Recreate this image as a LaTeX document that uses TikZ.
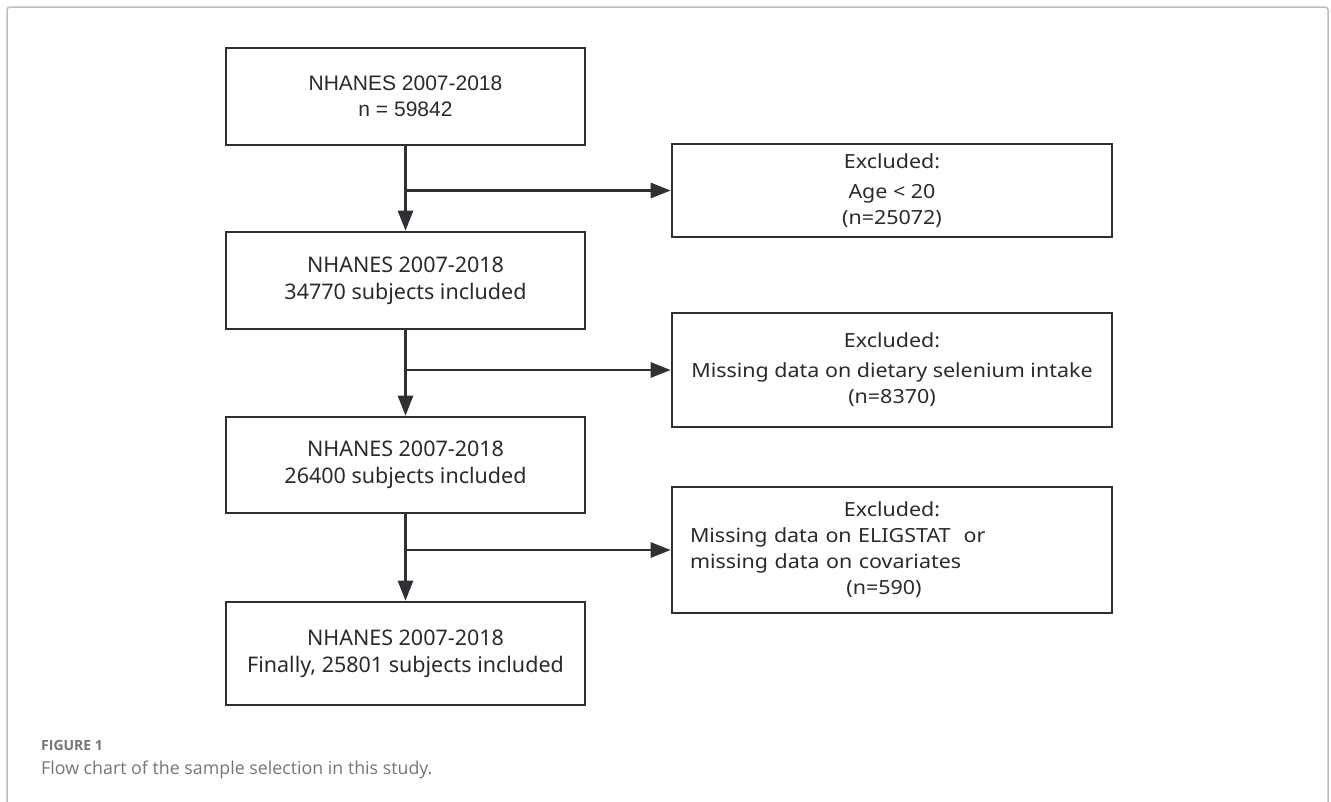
\documentclass[tikz,border=0pt]{standalone}
\usepackage{fontspec}
\usetikzlibrary{arrows.meta}
\setmainfont{Noto Sans}
\newfontfamily\arialfont{Liberation Sans}
\newfontfamily\exfont[FakeStretch=1.1]{Noto Sans}
\newfontfamily\capfont{Open Sans}
\definecolor{ink}{HTML}{2E3033}
\definecolor{txt}{HTML}{2A2A2A}
\definecolor{framegray}{HTML}{BDBDBD}
\definecolor{capgray}{HTML}{757575}
\tikzset{
  mainbox/.style={draw=ink, line width=2.6pt, minimum width=359pt, text=txt,
    align=center, inner sep=0pt, font=\fontsize{21.5}{27}\selectfont},
  exbox/.style={draw=ink, line width=2.6pt, minimum width=440pt, text=txt,
    align=center, inner sep=0pt, font=\exfont\fontsize{19.5}{26}\selectfont},
  flowarrow/.style={draw=ink, line width=2.6pt, -{Triangle[length=20pt,width=15pt]}},
}
\begin{document}
\begin{tikzpicture}[x=1pt,y=-1pt]
\useasboundingbox (0,0) rectangle (1331,801);
\draw[framegray, line width=1.5pt, rounded corners=3pt] (7,805) -- (7,7) -- (1328,7) -- (1328,805);

\node[mainbox, minimum height=97pt, font=\arialfont\fontsize{21}{26}\selectfont] (b1) at (405.5,96.5) {NHANES 2007-2018\\n = 59842};
\node[mainbox, minimum height=97pt] (b2) at (405.5,280.5) {NHANES 2007-2018\\34770 subjects included};
\node[mainbox, minimum height=96pt] (b3) at (405.5,465) {NHANES 2007-2018\\26400 subjects included};
\node[mainbox, minimum height=103pt] (b4) at (405.5,653.5) {NHANES 2007-2018\\Finally, 25801 subjects included};

\node[exbox, minimum height=93pt] (e1) at (892,190.5) {Excluded:\\[4pt]Age < 20\\(n=25072)};
\node[exbox, minimum height=114pt] (e2) at (892,370) {Excluded:\\[4pt]Missing data on dietary selenium intake\\(n=8370)};
\node[exbox, minimum height=126pt, align=left, text width=404pt, inner xsep=18pt] (e3) at (892,550)
  {\makebox[404pt][c]{Excluded:}\\Missing data on ELIGSTAT\ \ or\\missing data on covariates\\\makebox[404pt][c]{\hspace{-16pt}(n=590)}};

\draw[flowarrow] (b1.south) -- (b2.north);
\draw[flowarrow] (b2.south) -- (b3.north);
\draw[flowarrow] (b3.south) -- (b4.north);
\draw[flowarrow] (b1.south |- e1.west) -- (e1.west);
\draw[flowarrow] (b2.south |- e2.west) -- (e2.west);
\draw[flowarrow] (b3.south |- e3.west) -- (e3.west);

\node[anchor=base west, inner sep=0pt, text=capgray, font=\capfont\bfseries\fontsize{14}{16}\selectfont] (fig) at (41,750) {FIGURE 1};
\node[anchor=base west, inner sep=0pt, text=capgray, font=\capfont\fontsize{17.8}{21}\selectfont] (cap) at (41,774) {Flow chart of the sample selection in this study.};
\end{tikzpicture}
\end{document}
